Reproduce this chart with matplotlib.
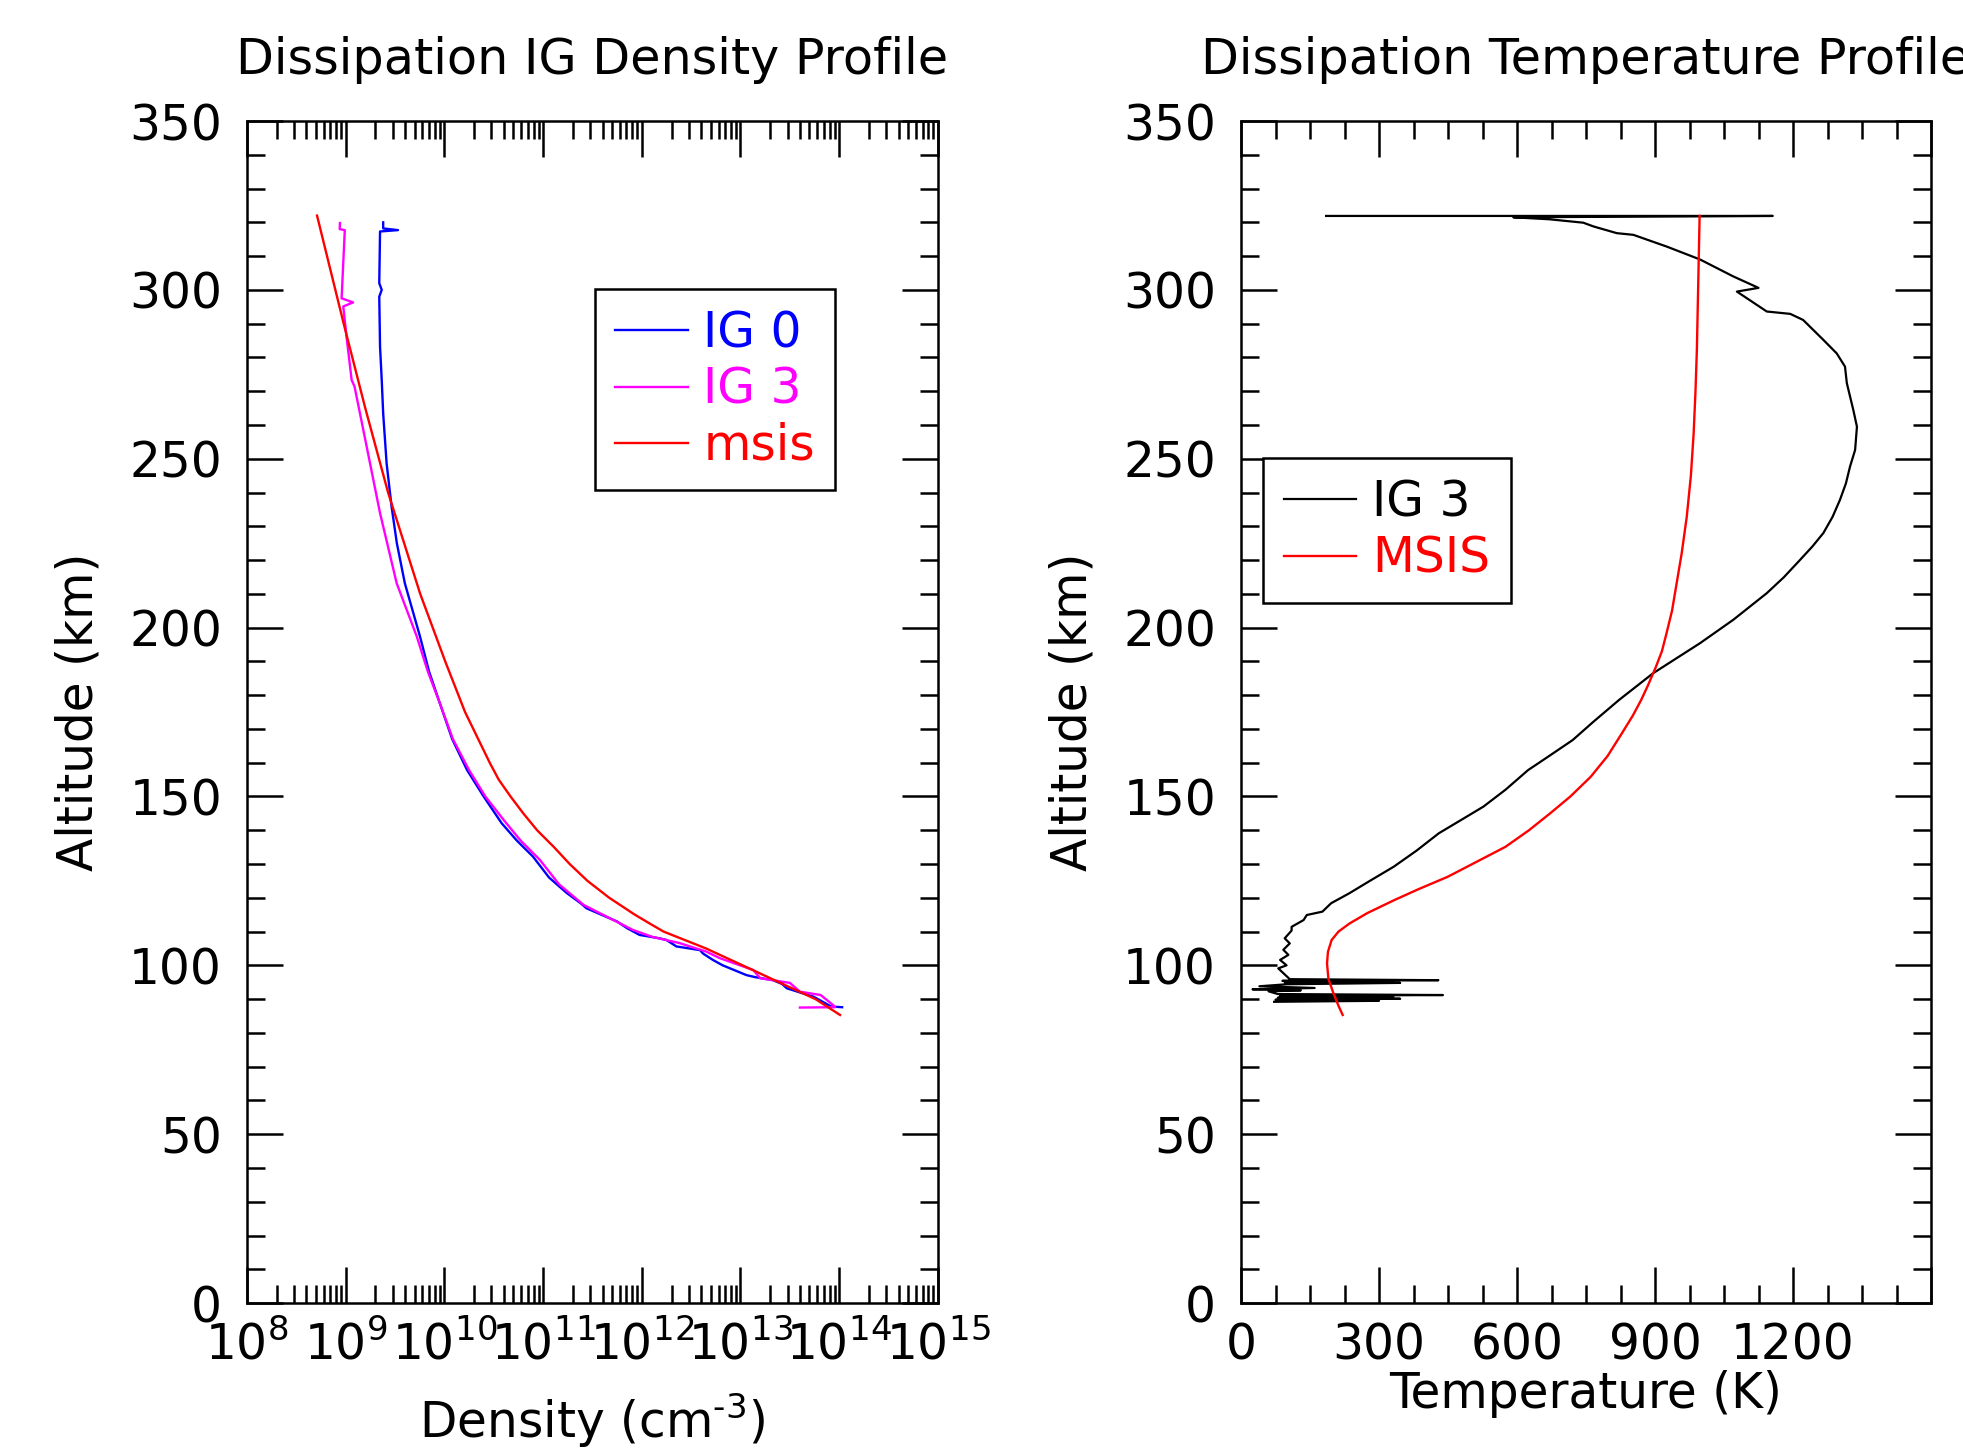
import numpy as np
import matplotlib.pyplot as plt
from matplotlib.ticker import LogLocator, MultipleLocator, NullFormatter

plt.rcParams['font.family'] = 'DejaVu Sans'
fs = 35

# density profiles (altitude km, density cm^-3)
msis_alt = [85.3, 90, 95, 100, 105, 110, 112.4, 115, 120, 125, 130, 135, 140, 145, 150,
            155, 160, 175, 190, 210, 240, 265, 290, 322]
msis_den = [1.02e14, 5.75e13, 2.45e13, 1.05e13, 4.47e12, 1.66e12, 1.2e12, 8.5e11,
            4.68e11, 2.82e11, 1.86e11, 1.29e11, 8.7e10, 6.3e10, 4.68e10, 3.55e10,
            2.88e10, 1.62e10, 1.02e10, 5.69e9, 2.69e9, 1.58e9, 9.55e8, 5.13e8]

ig0_alt = [87.6, 87.8, 90.7, 93.2, 94.5, 95.6, 96.5, 97.1, 100, 101.6, 103.5, 104.5,
           105.6, 107.5, 108.0, 109.0, 111, 113.0, 116.9, 118.4, 121.4, 126, 132.2,
           137, 142.1, 150, 157.8, 167, 177.6, 187, 197.4, 213.1, 225, 235.8, 248.6,
           263.4, 273.3, 283.2, 298, 300, 302, 317.3, 317.7, 318.2, 320]
ig0_den = [1.07e14, 8.3e13, 5.5e13, 2.95e13, 2.63e13, 2.14e13, 1.41e13, 1.15e13,
           6.6e12, 5.25e12, 4.17e12, 3.89e12, 2.24e12, 1.78e12, 1.51e12, 9.5e11,
           7.1e11, 5.6e11, 2.75e11, 2.4e11, 1.74e11, 1.15e11, 7.9e10, 5.4e10, 3.8e10,
           2.5e10, 1.7e10, 1.2e10, 9.0e9, 7.0e9, 5.66e9, 3.98e9, 3.3e9, 2.92e9, 2.6e9,
           2.4e9, 2.32e9, 2.23e9, 2.19e9, 2.32e9, 2.19e9, 2.23e9, 3.39e9, 2.4e9, 2.4e9]

ig3_alt = [87.5, 87.6, 88.2, 91.2, 92.2, 94.8, 96.2, 98.6, 102.1, 104.1, 106.6, 108.4,
           110.5, 117.9, 124, 131.2, 137, 143, 150, 157.8, 167, 177.6, 187, 197.4,
           213.1, 233.9, 253.7, 271.4, 273.3, 286.2, 295.1, 296.3, 297.5, 317.7, 318,
           319.8]
ig3_den = [4.0e13, 9.1e13, 8.7e13, 6.5e13, 4.0e13, 3.16e13, 1.58e13, 1.35e13, 6.2e12,
           4.47e12, 2.4e12, 1.29e12, 8.1e11, 2.57e11, 1.45e11, 9.3e10, 5.9e10, 4.0e10,
           2.6e10, 1.78e10, 1.22e10, 9.0e9, 6.8e9, 5.25e9, 3.29e9, 2.23e9, 1.63e9,
           1.23e9, 1.15e9, 1.02e9, 9.46e8, 1.19e9, 9.1e8, 9.8e8, 8.7e8, 8.75e8]

# temperature profiles (altitude km, temperature K)
t_ig3_alt = [89.2, 89.5, 89.8, 90.1, 90.4, 90.7, 91.0, 91.2, 91.5, 92.3, 92.6, 92.9,
             93.3, 93.8, 94.4, 94.8, 95.0, 95.2, 95.4, 95.6, 95.9, 99.1, 100, 101.6,
             103.1, 104.6, 106.5, 108, 110.3, 111.4, 113.4, 114.9, 115.9, 118.4,
             121.3, 125, 129.2, 134, 139.1, 143, 147, 152, 157.8, 162, 166.7, 172,
             178.6, 186.5, 195.4, 202.3, 210.2, 214.9, 220, 224, 228, 232.8, 237.8,
             242.7, 247.7, 252.6, 259.5, 264.5, 272.4, 277.3, 281.2, 285.2, 291.1,
             292.9, 293.6, 299.5, 300.6, 304, 309, 312.8, 316.3, 316.8, 318.8, 319.9,
             320.9, 321.5, 321.9, 321.9]
t_ig3_val = [72, 300, 75, 346, 80, 331, 85, 439, 80, 60, 130, 25, 160, 40, 100, 346,
             95, 331, 90, 429, 106, 81, 99, 85, 103, 92, 106, 95, 110, 110, 136, 143,
             177, 196, 235, 280, 332, 382, 430, 478, 527, 575, 624, 670, 721, 765,
             822, 896, 998, 1070, 1143, 1180, 1215, 1242, 1266, 1286, 1302, 1315,
             1324, 1335, 1339, 1331, 1317, 1313, 1295, 1266, 1222, 1194, 1143, 1078,
             1125, 1070, 998, 926, 853, 817, 766, 744, 671, 592, 1156, 185]

t_msis_alt = [85.3, 88, 91.7, 96, 100.6, 104, 107.5, 110, 112.4, 115.5, 119.3, 122.5,
              126.2, 130.5, 135.1, 140, 145, 150, 155.8, 162, 168.7, 174, 178.6, 183,
              188.4, 193, 198.3, 205, 213.1, 222, 232.8, 245, 257.5, 270, 282.2, 302,
              321.9]
t_msis_val = [221, 212, 201, 190, 187, 189, 197, 212, 236, 275, 333, 385, 449, 510,
              575, 626, 672, 716, 760, 797, 828, 852, 870, 885, 902, 915, 925, 937,
              947, 958, 969, 978, 984, 988, 991, 994, 997]

t_ticks = [0, 300, 600, 900, 1200, 1500]
t_ticklabels = ['0', '300', '600', '900', '1200', '']

fig = plt.figure(figsize=(19.63, 14.53), dpi=100)
ax1 = fig.add_axes([0.1258, 0.1032, 0.352, 0.8135])
ax2 = fig.add_axes([0.6322, 0.1032, 0.3515, 0.8135])

ax1.plot(ig0_den, ig0_alt, color='blue', lw=1.7, label='IG 0')
ax1.plot(ig3_den, ig3_alt, color='magenta', lw=1.7, label='IG 3')
ax1.plot(msis_den, msis_alt, color='red', lw=1.7, label='msis')
ax1.set_xscale('log')
ax1.set_xlim(1e8, 1e15)
ax1.xaxis.set_major_locator(LogLocator(base=10, numticks=20))
ax1.xaxis.set_minor_locator(LogLocator(base=10, subs=np.arange(2, 10), numticks=200))
ax1.xaxis.set_minor_formatter(NullFormatter())
ax1.set_xlabel(r'Density (cm$^{\text{-3}}$)', fontsize=fs, labelpad=15)
ax1.set_title('Dissipation IG Density Profile', fontsize=35.5, pad=34)

ax2.plot(t_ig3_val, t_ig3_alt, color='black', lw=1.6, label='IG 3')
ax2.plot(t_msis_val, t_msis_alt, color='red', lw=1.7, label='MSIS')
ax2.set_xlim(0, 1500)
ax2.set_xticks(t_ticks, t_ticklabels)
ax2.xaxis.set_minor_locator(MultipleLocator(75))
ax2.set_xlabel('Temperature (K)', fontsize=fs, labelpad=1)
ax2.set_title('Dissipation Temperature Profile', fontsize=35.5, pad=34)

for ax in (ax1, ax2):
    ax.set_ylim(0, 350)
    ax.yaxis.set_major_locator(MultipleLocator(50))
    ax.yaxis.set_minor_locator(MultipleLocator(10))
    ax.set_ylabel('Altitude (km)', fontsize=fs, labelpad=19)
    ax.tick_params(which='major', direction='in', length=26, width=1.8,
                   top=True, right=True, labelsize=fs)
    ax.tick_params(which='minor', direction='in', length=13, width=1.8,
                   top=True, right=True)
    ax.tick_params(axis='y', which='major', pad=18)
    ax.tick_params(axis='x', which='major', pad=13)
    for s in ax.spines.values():
        s.set_linewidth(1.8)

leg_kw = dict(loc='upper left', borderaxespad=0, fontsize=fs, fancybox=False,
              edgecolor='black', framealpha=1, handlelength=1.5, handletextpad=0.32,
              labelspacing=0.17, borderpad=0.42, labelcolor='linecolor')
leg1 = ax1.legend(bbox_to_anchor=(0.503, 0.858), **leg_kw)
leg1.get_frame().set_linewidth(1.8)
leg2 = ax2.legend(bbox_to_anchor=(0.032, 0.715), **leg_kw)
leg2.get_frame().set_linewidth(1.8)

fig.savefig('out.png', dpi=100)
